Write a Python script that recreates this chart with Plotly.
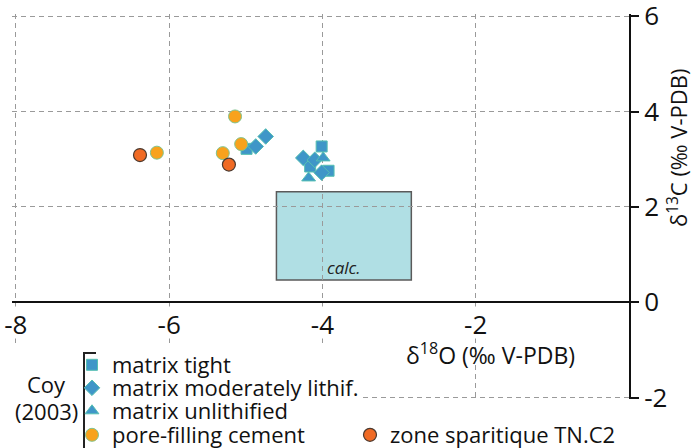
import plotly.graph_objects as go

# ---- data ----
tight_x = [-4.99, -4.01, -4.16, -3.92]
tight_y = [3.22, 3.27, 2.85, 2.76]
mod_x = [-4.74, -4.87, -4.25, -4.10, -4.01]
mod_y = [3.48, 3.27, 3.03, 2.99, 2.72]
unl_x = [-3.99, -4.18]
unl_y = [3.03, 2.61]
pore_x = [-6.16, -5.14, -5.06, -5.30]
pore_y = [3.14, 3.90, 3.32, 3.13]
zone_x = [-6.38, -5.22]
zone_y = [3.09, 2.89]
calc_x = [-4.60, -2.84]
calc_y = [0.47, 2.32]
x_ticks = [-8, -6, -4, -2]
x_ticklabels = ["-8", "-6", "-4", "-2"]
y_ticks = [-2, 0, 2, 4, 6]
y_ticklabels = ["-2", "0", "2", "4", "6"]
series_names = ["matrix tight", "matrix moderately lithif.", "matrix unlithified",
                "pore-filling cement", "zone sparitique TN.C2"]

FONT = "Open Sans"
BLUE = "#3f96c8"
BLUE_LINE = "#55c0b2"
YEL = "#f8a21c"
YEL_LINE = "#7fc48f"
ORA = "#f06a24"
ORA_LINE = "#4a3a30"

XR = [-8.05, 0.0]
YR = [-2.03, 6.05]

# plot-area pixel geometry (used to place paper-referenced decorations)
L_PX, R_PX, T_PX, B_PX = 12, 629, 14, 399
W_PX, H_PX = R_PX - L_PX, B_PX - T_PX
def px(xp):
    return (xp - L_PX) / W_PX
def py(yp):
    return (B_PX - yp) / H_PX

fig = go.Figure()
fig.add_trace(go.Scatter(x=tight_x, y=tight_y, mode="markers", name=series_names[0],
                         legend="legend",
                         marker=dict(symbol="square", size=11, color=BLUE,
                                     line=dict(color=BLUE_LINE, width=1))))
fig.add_trace(go.Scatter(x=mod_x, y=mod_y, mode="markers", name=series_names[1],
                         legend="legend2",
                         marker=dict(symbol="diamond", size=12, color=BLUE,
                                     line=dict(color=BLUE_LINE, width=1))))
fig.add_trace(go.Scatter(x=unl_x, y=unl_y, mode="markers", name=series_names[2],
                         legend="legend3",
                         marker=dict(symbol="triangle-up", size=12, color=BLUE,
                                     line=dict(color=BLUE_LINE, width=1))))
fig.add_trace(go.Scatter(x=pore_x, y=pore_y, mode="markers", name=series_names[3],
                         legend="legend4",
                         marker=dict(symbol="circle", size=13, color=YEL,
                                     line=dict(color=YEL_LINE, width=1))))
fig.add_trace(go.Scatter(x=zone_x, y=zone_y, mode="markers", name=series_names[4],
                         legend="legend5",
                         marker=dict(symbol="circle", size=13, color=ORA,
                                     line=dict(color=ORA_LINE, width=1.2))))

shapes = [
    # calcite field box
    dict(type="rect", xref="x", yref="y", x0=calc_x[0], x1=calc_x[1],
         y0=calc_y[0], y1=calc_y[1], fillcolor="#b0dfe4",
         line=dict(color="#5a5a5a", width=1.5), layer="below"),
    # white area behind legend
    dict(type="rect", xref="x", yref="y", x0=-8.4, x1=-3.48, y0=-2.4, y1=-0.94,
         fillcolor="white", line=dict(width=0), layer="between"),
    # white band behind x tick labels
    dict(type="rect", xref="x", yref="y", x0=-8.4, x1=-0.03, y0=-0.76, y1=-0.09,
         fillcolor="white", line=dict(width=0), layer="between"),
    # white box behind x-axis title
    dict(type="rect", xref="paper", yref="paper", x0=px(390), x1=px(595),
         y0=py(371), y1=py(336), fillcolor="white", line=dict(width=0),
         layer="between"),
    # legend bracket
    dict(type="path", xref="paper", yref="paper",
         path=f"M {px(84)},{py(452)} L {px(84)},{py(353)} L {px(96)},{py(353)}",
         line=dict(color="#222222", width=2)),
]

annotations = [
    dict(text="<i>calc.</i>", x=(calc_x[0] + calc_x[1]) / 2, y=calc_y[0],
         xref="x", yref="y", xanchor="center", yanchor="bottom", yshift=-1,
         showarrow=False, font=dict(family=FONT, size=17, color="#222")),
    dict(text="δ<sup>18</sup>O (‰ V-PDB)", x=px(490), y=py(354),
         xref="paper", yref="paper", xanchor="center", yanchor="middle",
         showarrow=False, font=dict(family=FONT, size=23, color="#111")),
    dict(text="δ<sup>13</sup>C (‰ V-PDB)", x=px(677), y=py(148),
         xref="paper", yref="paper", xanchor="center", yanchor="middle",
         textangle=-90, showarrow=False,
         font=dict(family=FONT, size=22, color="#111")),
    dict(text="Coy", x=px(46), y=py(384),
         xref="paper", yref="paper", xanchor="center", yanchor="middle",
         showarrow=False, font=dict(family=FONT, size=22, color="#111")),
    dict(text="(2003)", x=px(46), y=py(411),
         xref="paper", yref="paper", xanchor="center", yanchor="middle",
         showarrow=False, font=dict(family=FONT, size=22, color="#111")),
]

leg_font = dict(family=FONT, size=22, color="#111")
def leg(xpx, ypx):
    return dict(x=px(xpx), y=py(ypx), xanchor="left",
                yanchor="middle", bgcolor="rgba(0,0,0,0)", borderwidth=0,
                font=leg_font, itemclick=False, itemdoubleclick=False)

fig.update_layout(
    width=692, height=448,
    margin=dict(l=L_PX, r=692 - R_PX, t=T_PX, b=448 - B_PX, autoexpand=False),
    paper_bgcolor="white", plot_bgcolor="white",
    font=dict(family=FONT, color="#111"),
    showlegend=True,
    legend=leg(72, 365),
    legend2=leg(72, 388),
    legend3=leg(72, 411),
    legend4=leg(72, 435),
    legend5=leg(350, 435),
    shapes=shapes,
    annotations=annotations,
    xaxis=dict(range=XR, anchor="free", position=(0 - YR[0]) / (YR[1] - YR[0]),
               tickvals=x_ticks, ticktext=x_ticklabels, ticks="",
               tickfont=dict(family=FONT, size=26, color="#111"),
               showgrid=True, gridcolor="#9a9a9a", griddash="5px,4px", gridwidth=1.2,
               zeroline=False, showline=True, linecolor="#111", linewidth=2,
               automargin=False, fixedrange=True, ticklabeloverflow="allow"),
    yaxis=dict(range=YR, side="right", tickvals=y_ticks, ticktext=y_ticklabels,
               ticks="outside", ticklen=8, tickwidth=2, tickcolor="#111",
               tickfont=dict(family=FONT, size=26, color="#111"),
               showgrid=True, gridcolor="#9a9a9a", griddash="5px,4px", gridwidth=1.2,
               zeroline=False, showline=True, linecolor="#111", linewidth=2,
               automargin=False, fixedrange=True, ticklabeloverflow="allow"),
)

fig.write_html("out.html", config={"displayModeBar": False},
               post_script="document.body.style.margin='0';document.body.style.overflow='hidden';")
